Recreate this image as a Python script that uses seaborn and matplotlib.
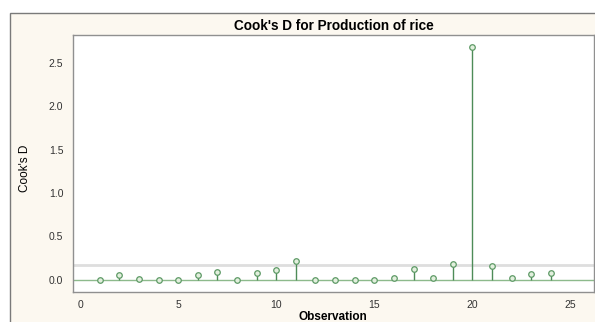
import matplotlib
matplotlib.use("Agg")
import matplotlib.pyplot as plt
from matplotlib.patches import Rectangle
import seaborn as sns
import pandas as pd

# Cook's distance per observation
observation = list(range(1, 25))
cooks_d = [0.002, 0.054, 0.006, 0.001, 0.001, 0.054, 0.088, 0.001,
           0.077, 0.110, 0.220, 0.001, 0.001, 0.001, 0.001, 0.020,
           0.120, 0.027, 0.180, 2.680, 0.165, 0.027, 0.065, 0.080]
cutoff = 4 / 24

title = "Cook's D for Production of rice"
x_label = "Observation"
y_label = "Cook's D"
x_ticks = [0, 5, 10, 15, 20, 25]
y_ticks = [0.0, 0.5, 1.0, 1.5, 2.0, 2.5]

df = pd.DataFrame({"obs": observation, "d": cooks_d})

sns.set_style("white")
plt.rcParams["font.family"] = ["Liberation Sans", "DejaVu Sans"]

W, H = 595, 322
fig = plt.figure(figsize=(W / 100, H / 100), dpi=100)
fig.patch.set_facecolor("white")

# cream graph frame, kept behind the axes
fig.patches.append(Rectangle((9.5 / W, -0.1), 1.0, 1.1 - 13.5 / H,
                             transform=fig.transFigure, facecolor="#FCF8F0",
                             edgecolor="#7A7A7A", linewidth=1.0, zorder=-5))

ax = fig.add_axes([73 / W, 1 - 292 / H, 521 / W, (292 - 35) / H])
ax.set_zorder(1)
ax.set_facecolor("white")

stem = "#4E8C58"
ax.axhline(cutoff, color="#DEDEDE", linewidth=2.0, zorder=1)
ax.axhline(0, color="#8DBA8C", linewidth=1.0, zorder=2)
ax.vlines(df["obs"], 0, df["d"], color=stem, linewidth=1.0, zorder=3)
sns.scatterplot(data=df, x="obs", y="d", ax=ax, marker="o", s=16,
                facecolor="#E2EFDD", edgecolor="#5E9A66", linewidth=0.9,
                zorder=4, legend=False)

ax.set_xlim(-0.36, 26.2)
ax.set_ylim(-0.14, 2.82)
ax.set_xticks(x_ticks)
ax.set_yticks(y_ticks)
ax.set_xticklabels([str(t) for t in x_ticks])
ax.set_yticklabels([f"{t:.1f}" for t in y_ticks])
ax.tick_params(axis="both", direction="out", length=3, width=0.8,
               color="#808080", labelsize=7.5, labelcolor="#333333", pad=3)
ax.tick_params(axis="y", pad=4)
for side, sp in ax.spines.items():
    sp.set_color("#909090")
    sp.set_linewidth(1.0)
    sp.set_visible(True)

ax.set_xlabel("")
ax.set_ylabel("")
fig.text(334 / W, 1 - 26 / H, title, ha="center", va="center",
         fontsize=9.8, fontweight="bold", color="black")
fig.text(333 / W, 1 - 317 / H, x_label, ha="center", va="center",
         fontsize=8.5, fontweight="bold", color="black")
fig.text(25 / W, 1 - 168 / H, y_label, ha="center", va="center",
         rotation=90, fontsize=8.5, color="black")

fig.savefig("out.png", dpi=100, facecolor="white")
